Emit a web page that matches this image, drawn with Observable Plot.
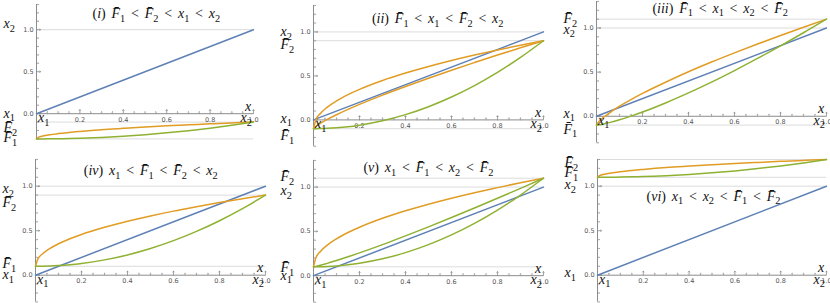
<!DOCTYPE html>
<html><head><meta charset="utf-8">
<script src="https://cdn.jsdelivr.net/npm/d3@7"></script>
<script src="https://cdn.jsdelivr.net/npm/@observablehq/plot@0.6"></script>
<style>
body{margin:0;background:#fff;}
#chart{position:relative;width:830px;height:303px;overflow:hidden;background:#fff;}
#chart svg{position:absolute;overflow:visible;background:transparent;}
</style></head><body><div id="chart"></div>
<script>
// sample x positions for the curves
const xs = [0, 0.01, 0.03, 0.06, 0.1, 0.15, 0.2, 0.3, 0.4, 0.5, 0.6, 0.7, 0.8, 0.9, 1.0];
// blue diagonal (same in all panels)
const blueX = [0, 1];
const blueY = [0, 1];
// panel (i)
const p1Orange = [-0.3, -0.28, -0.265, -0.251, -0.237, -0.223, -0.211, -0.19, -0.174, -0.159, -0.145, -0.133, -0.121, -0.11, -0.1];
const p1Green = [-0.3, -0.3, -0.3, -0.299, -0.298, -0.296, -0.292, -0.282, -0.268, -0.25, -0.228, -0.202, -0.172, -0.138, -0.1];
// panel (ii)
const p2OrangeA = [-0.1, 0, 0.073, 0.145, 0.216, 0.287, 0.347, 0.448, 0.532, 0.607, 0.675, 0.737, 0.794, 0.849, 0.9];
const p2OrangeB = [-0.1, -0.075, -0.039, 0.005, 0.058, 0.119, 0.176, 0.282, 0.38, 0.474, 0.565, 0.652, 0.737, 0.819, 0.9];
const p2Green = [-0.1, -0.1, -0.099, -0.096, -0.09, -0.078, -0.06, -0.01, 0.06, 0.15, 0.26, 0.39, 0.54, 0.71, 0.9];
// panel (iii)
const p3Orange = [-0.1, -0.062, -0.013, 0.045, 0.114, 0.189, 0.259, 0.386, 0.504, 0.614, 0.718, 0.818, 0.915, 1.009, 1.1];
const p3Green = [-0.1, -0.097, -0.087, -0.069, -0.04, 0.002, 0.048, 0.151, 0.265, 0.387, 0.518, 0.655, 0.798, 0.946, 1.1];
// panel (iv)
const p4Orange = [0.1, 0.18, 0.239, 0.296, 0.353, 0.41, 0.458, 0.538, 0.606, 0.666, 0.72, 0.769, 0.816, 0.859, 0.9];
const p4Green = [0.1, 0.1, 0.101, 0.103, 0.108, 0.118, 0.132, 0.172, 0.228, 0.3, 0.388, 0.492, 0.612, 0.748, 0.9];
// panel (v)
const p5Orange = [0.1, 0.2, 0.273, 0.345, 0.416, 0.487, 0.547, 0.648, 0.732, 0.807, 0.875, 0.937, 0.994, 1.049, 1.1];
const p5GreenA = [0.1, 0.105, 0.118, 0.139, 0.171, 0.213, 0.257, 0.35, 0.449, 0.551, 0.656, 0.764, 0.874, 0.986, 1.1];
const p5GreenB = [0.1, 0.1, 0.101, 0.104, 0.11, 0.123, 0.14, 0.19, 0.26, 0.35, 0.46, 0.59, 0.74, 0.91, 1.1];
// panel (vi)
const p6Orange = [1.1, 1.12, 1.135, 1.149, 1.163, 1.177, 1.189, 1.21, 1.226, 1.241, 1.255, 1.267, 1.279, 1.29, 1.3];
const p6Green = [1.1, 1.1, 1.1, 1.101, 1.102, 1.105, 1.108, 1.118, 1.132, 1.15, 1.172, 1.198, 1.228, 1.262, 1.3];

// ticks
const xMajor = [0.2, 0.4, 0.6, 0.8, 1.0];
const xMinor = [0.05, 0.1, 0.15, 0.25, 0.3, 0.35, 0.45, 0.5, 0.55, 0.65, 0.7, 0.75, 0.85, 0.9, 0.95];
const yMajor = [0, 0.5, 1.0];
const yMinor = [-0.3, -0.2, -0.1, 0.1, 0.2, 0.3, 0.4, 0.6, 0.7, 0.8, 0.9, 1.1, 1.2, 1.3];

// titles, level values and their names
const titles = [
  "(i) F\u0304\u2081 < F\u0304\u2082 < x\u2081 < x\u2082",
  "(ii) F\u0304\u2081 < x\u2081 < F\u0304\u2082 < x\u2082",
  "(iii) F\u0304\u2081 < x\u2081 < x\u2082 < F\u0304\u2082",
  "(iv) x\u2081 < F\u0304\u2081 < F\u0304\u2082 < x\u2082",
  "(v) x\u2081 < F\u0304\u2081 < x\u2082 < F\u0304\u2082",
  "(vi) x\u2081 < x\u2082 < F\u0304\u2081 < F\u0304\u2082"
];
const levelNames = [
  ["x\u2082", "x\u2081", "F\u0304\u2082", "F\u0304\u2081"],
  ["x\u2082", "F\u0304\u2082", "x\u2081", "F\u0304\u2081"],
  ["F\u0304\u2082", "x\u2082", "x\u2081", "F\u0304\u2081"],
  ["x\u2082", "F\u0304\u2082", "F\u0304\u2081", "x\u2081"],
  ["F\u0304\u2082", "x\u2082", "F\u0304\u2081", "x\u2081"],
  ["F\u0304\u2082", "F\u0304\u2081", "x\u2082", "x\u2081"]
];
const levelValues = [
  [1.0, 0, -0.1, -0.3],
  [1.0, 0.9, 0, -0.1],
  [1.1, 1.0, 0, -0.1],
  [1.0, 0.9, 0.1, 0],
  [1.1, 1.0, 0.1, 0],
  [1.3, 1.1, 1.0, 0]
];
const orangeSeries = [[p1Orange], [p2OrangeA, p2OrangeB], [p3Orange], [p4Orange], [p5Orange], [p6Orange]];
const greenSeries = [[p1Green], [p2Green], [p3Green], [p4Green], [p5GreenA, p5GreenB], [p6Green]];

// layout (pixels): origin of axes, unit sizes, title start, label nudges
const layout = [
  {ox: 36, w: 217, oy: 113.3, h: 84, tx: 0.258, ty: 1.135, nud: [-1.3, 4, 10, 3]},
  {ox: 313.3, w: 230, oy: 119, h: 88, tx: 0.254, ty: 1.10, nud: [4, 8.5, 2.7, 11.5]},
  {ox: 595.7, w: 230, oy: 116, h: 88.3, tx: 0.243, ty: 1.172, nud: [3.8, 5.6, 1.3, 8.5]},
  {ox: 35, w: 230, oy: 275, h: 89, tx: 0.210, ty: 1.124, nud: [7.3, 11.8, 2.2, 4.3]},
  {ox: 313.3, w: 230, oy: 275.3, h: 88.6, tx: 0.217, ty: 1.169, nud: [2.9, 8.3, 5.3, 4]},
  {ox: 596.7, w: 229, oy: 275, h: 89, tx: 0.214, ty: 0.835, nud: [7.4, 0.2, 3.3, 2.3]}
];

const BLUE = "#5E81B5", ORANGE = "#E19C24", GREEN = "#8FB131";
const AX = "#8c8c8c", GRID = "#dcdcdc", TICKTXT = "#555";
const SERIF = "'Liberation Serif', 'Times New Roman', serif";
const FS = 14;
const ML = 34, MR = 8, MT = 4, MB = 4;

// turn plain label strings into math-styled tspans (italic letters, upright symbols, real subscripts)
function mathify(svg) {
  d3.select(svg).selectAll("g[font-family*='Liberation'] text").each(function() {
    const t = d3.select(this);
    const chars = Array.from(this.textContent);
    t.text(null).attr("font-style", "normal");
    if (chars.includes("<")) t.style("word-spacing", "2.3px");
    let shifted = false;
    for (let k = 0; k < chars.length; k++) {
      const c = chars[k];
      if (c === "\u2081" || c === "\u2082") {
        t.append("tspan").attr("font-size", FS * 0.74).attr("font-style", "normal")
          .attr("dy", shifted ? 0 : 3.6).text(c === "\u2081" ? "1" : "2");
        shifted = true;
      } else {
        let txt = c;
        if (chars[k + 1] === "\u0304") { txt += "\u0304"; k++; }
        const letter = /[A-Za-z]/.test(c);
        const span = t.append("tspan").attr("font-style", letter ? "italic" : "normal").text(txt);
        if (shifted) span.attr("dy", -3.6);
        shifted = false;
      }
    }
  });
}

const chart = document.getElementById("chart");

layout.forEach((L, i) => {
  const levels = levelValues[i].map((v, k) => ({v, name: levelNames[i][k], nud: L.nud[k]}));
  const gridVals = levelValues[i].filter(v => v !== 0);
  const curve = (ys, color) => Plot.line(xs.map((x, k) => ({x, y: ys[k]})), {x: "x", y: "y", stroke: color, strokeWidth: 1.5, curve: "monotone-x"});
  const mathText = {fontSize: FS, fontFamily: SERIF, fill: "#111"};
  const marks = [
    Plot.ruleY(gridVals, {y: d => d, x1: 0, x2: 1, stroke: GRID, strokeWidth: 1}),
    Plot.ruleX([0], {x: d => d, y1: -0.3, y2: 1.3, stroke: AX, strokeWidth: 1}),
    Plot.ruleY([0], {y: d => d, x1: 0, x2: 1, stroke: AX, strokeWidth: 1}),
    Plot.vector(xMajor, {x: d => d, y: 0, length: 4, rotate: 0, anchor: "start", stroke: AX, strokeWidth: 0.8}),
    Plot.vector(xMinor, {x: d => d, y: 0, length: 2, rotate: 0, anchor: "start", stroke: AX, strokeWidth: 0.6}),
    Plot.vector(yMajor, {x: 0, y: d => d, length: 4, rotate: 90, anchor: "start", stroke: AX, strokeWidth: 0.8}),
    Plot.vector(yMinor, {x: 0, y: d => d, length: 2, rotate: 90, anchor: "start", stroke: AX, strokeWidth: 0.6}),
    Plot.text(xMajor, {x: d => d, y: 0, text: d => d.toFixed(1), dy: 6, fontSize: 6.5, fill: TICKTXT, fontFamily: "DejaVu Sans, sans-serif"}),
    Plot.text(yMajor, {x: 0, y: d => d, text: d => d.toFixed(1), dx: -3, textAnchor: "end", fontSize: 6.5, fill: TICKTXT, fontFamily: "DejaVu Sans, sans-serif"}),
    Plot.line(blueX.map((x, k) => ({x, y: blueY[k]})), {x: "x", y: "y", stroke: BLUE, strokeWidth: 1.5}),
    ...orangeSeries[i].map(s => curve(s, ORANGE)),
    ...greenSeries[i].map(s => curve(s, GREEN)),
    Plot.text(levels, {y: d => d.v - d.nud / L.h, text: "name", frameAnchor: "left", dx: -33, textAnchor: "start", lineAnchor: "bottom", ...mathText}),
    Plot.text([titles[i]], {x: L.tx, y: L.ty, text: d => d, textAnchor: "start", lineAnchor: "bottom", ...mathText}),
    Plot.text(["x"], {x: 1, y: 0, text: d => d, dx: -5.5, dy: -3, lineAnchor: "bottom", ...mathText}),
    Plot.text(["x\u2081"], {x: 0, y: 0, text: d => d, dx: 1.5, dy: 8.5, textAnchor: "start", lineAnchor: "bottom", ...mathText}),
    Plot.text(["x\u2082"], {x: 1, y: 0, text: d => d, dx: -13, dy: 8.5, textAnchor: "start", lineAnchor: "bottom", ...mathText})
  ];
  const svg = Plot.plot({
    width: L.w + ML + MR,
    height: 1.6 * L.h + MT + MB,
    marginLeft: ML, marginRight: MR, marginTop: MT, marginBottom: MB,
    x: {domain: [0, 1], axis: null},
    y: {domain: [-0.3, 1.3], axis: null},
    style: {background: "transparent", overflow: "visible"},
    marks
  });
  mathify(svg);
  svg.style.left = (L.ox - ML) + "px";
  svg.style.top = (L.oy - 1.3 * L.h - MT) + "px";
  chart.appendChild(svg);
});
</script>
</body></html>
